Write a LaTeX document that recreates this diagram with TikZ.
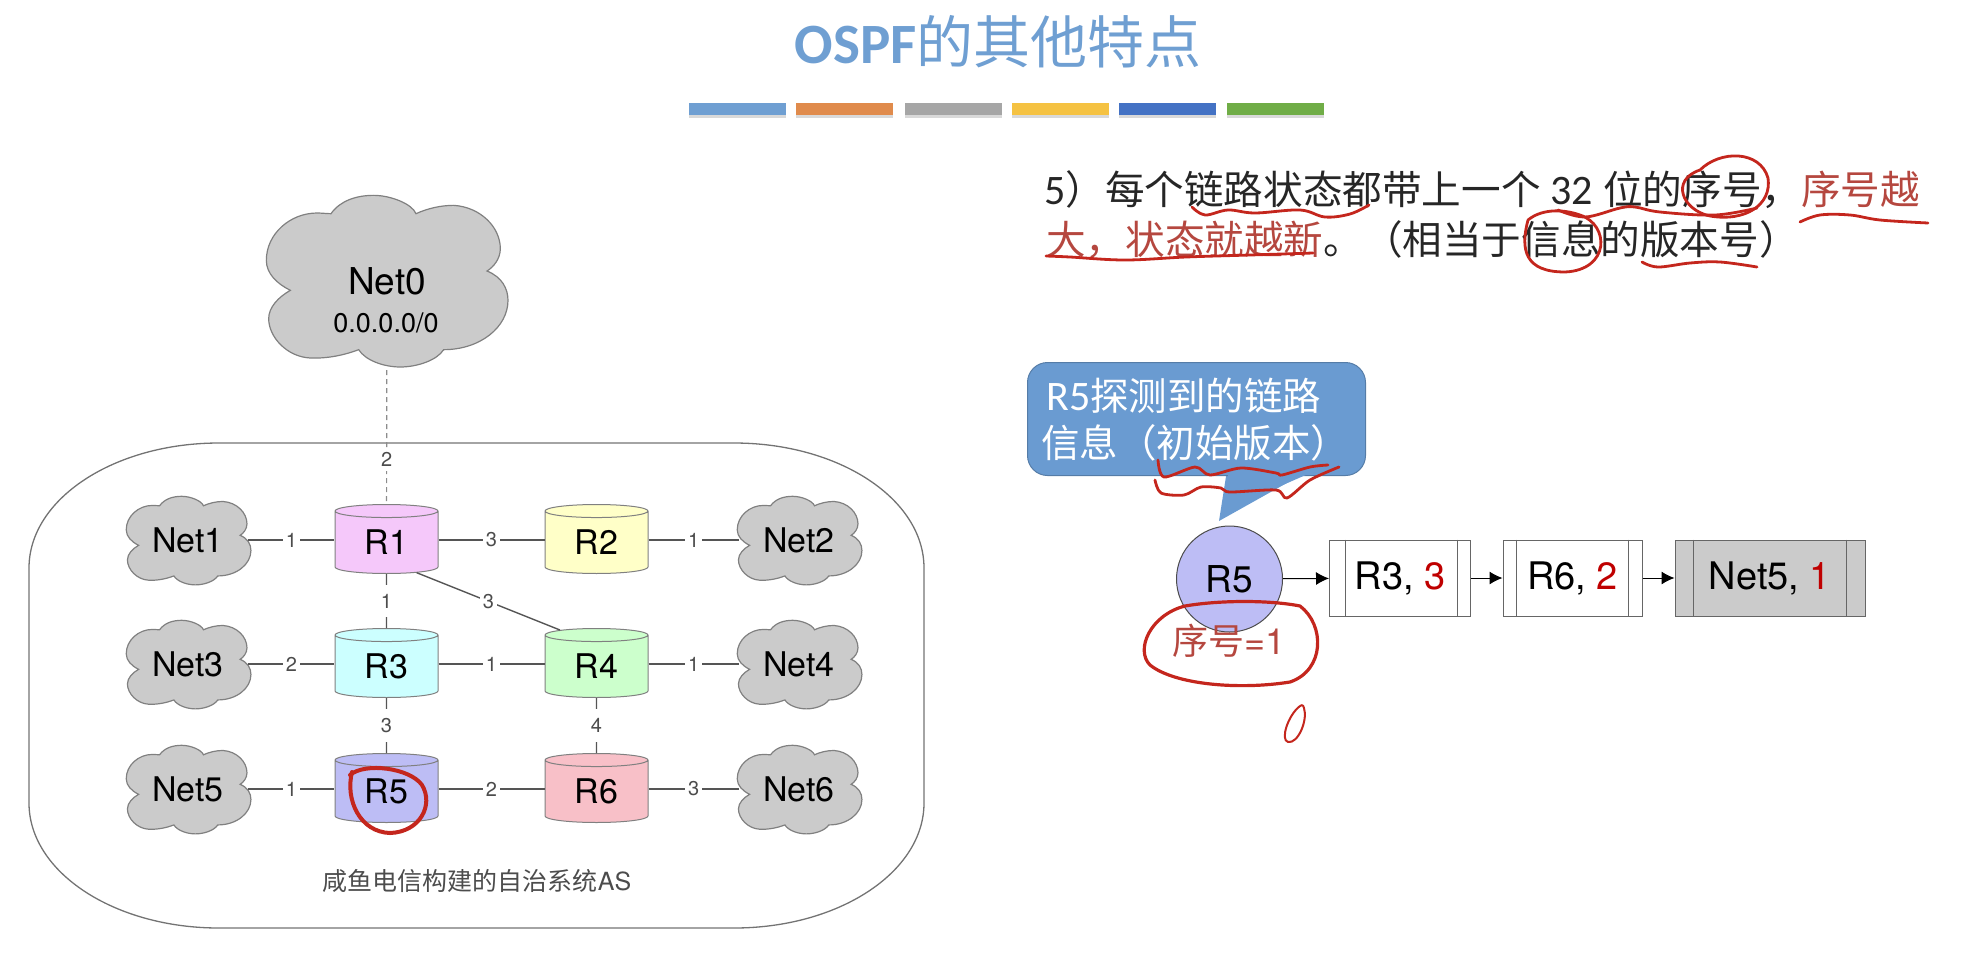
\documentclass[tikz,border=0pt]{standalone}
\usepackage{fontspec}
\usepackage{xcolor}
\setmainfont{TeX Gyre Heros}
\newfontfamily\cjk{Noto Sans CJK SC}
\newfontfamily\carl{Carlito}
\newcommand{\fsz}[1]{\fontsize{#1}{#1}\selectfont}
\newcommand{\drawcloud}[2]{\draw[cloudline, shift={#1}, scale=#2] (-168,-202) .. controls (-140,-242) and (-90,-257) .. (-40,-257) .. controls (10,-257) and (75,-232) .. (87,-202) .. controls (120,-217) and (160,-227) .. (200,-227) .. controls (280,-222) and (340,-162) .. (340,-97) .. controls (340,-67) and (320,-42) .. (300,-30) .. controls (345,-12) and (363,23) .. (363,58) .. controls (363,138) and (280,206) .. (170,206) .. controls (150,238) and (90,258) .. (40,258) .. controls (-10,258) and (-65,238) .. (-85,206) .. controls (-130,223) and (-180,233) .. (-230,231) .. controls (-300,228) and (-355,168) .. (-355,113) .. controls (-355,78) and (-325,48) .. (-290,28) .. controls (-330,8) and (-362,-22) .. (-362,-62) .. controls (-362,-142) and (-290,-204) .. (-210,-204) .. controls (-195,-204) and (-180,-202) .. (-168,-202) -- cycle;}
\definecolor{inkred}{HTML}{C4261D}
\definecolor{txtred}{HTML}{B5473F}
\definecolor{cloudgray}{HTML}{CBCBCB}
\definecolor{linegray}{HTML}{555555}
\definecolor{titleblue}{HTML}{6F9FD2}
\definecolor{calloutblue}{HTML}{6A9BD1}
\usetikzlibrary{arrows.meta, positioning, calc, shapes.geometric, shadows}

\begin{document}
\begin{tikzpicture}[x=1pt, y=-1pt,
	bar/.style={minimum width=97pt, minimum height=12pt, inner sep=0pt, drop shadow={shadow xshift=0pt, shadow yshift=-3pt, opacity=0.3}},
	cloudline/.style={draw=black!50, line width=1.2pt, fill=cloudgray},
	net/.style={inner sep=0pt, minimum width=120pt, minimum height=87pt, font=\fsz{34}},
	router/.style={cylinder, shape border rotate=90, aspect=0.3, draw=black!50, line width=1pt, inner sep=0pt, minimum width=103pt, minimum height=69pt, font=\fsz{34}},
	cost/.style={fill=white, inner sep=3pt, text=black!70, font=\fsz{20}},
	vcost/.style={cost, inner ysep=9pt},
	link/.style={linegray, line width=1.4pt},
	listbox/.style={draw=black!60, line width=1pt, inner sep=0pt, minimum height=76pt, font=\fsz{38}},
	ink/.style={inkred, line width=2.8pt, line cap=round, line join=round}]

	\useasboundingbox (0,0) rectangle (1972,954);

	% Title and colour bars
	\node[font=\fsz{57}, text=titleblue] (title) at (998,42) {{\carl\bfseries OSPF}{\cjk 的其他特点}};
	\node[bar, fill=titleblue] (bar1) at (737.5,109) {};
	\node[bar, fill={rgb,255:red,224;green,139;blue,76}] (bar2) at (844,109) {};
	\node[bar, fill=black!35] (bar3) at (953,109) {};
	\node[bar, fill={rgb,255:red,245;green,194;blue,66}] (bar4) at (1060.5,109) {};
	\node[bar, fill={rgb,255:red,68;green,114;blue,196}] (bar5) at (1167,109) {};
	\node[bar, fill={rgb,255:red,112;green,173;blue,71}] (bar6) at (1275.5,109) {};

	% Autonomous system outline
	\draw[black!55, line width=1.3pt] (219,443) -- (734,443) .. controls (839,443) and (924,499) .. (924,568) -- (924,803) .. controls (924,872) and (839,928) .. (734,928) -- (219,928) .. controls (114,928) and (29,872) .. (29,803) -- (29,568) .. controls (29,499) and (114,443) .. (219,443) -- cycle;
	\node[font=\cjk\fsz{25}, text=black!70] (ascap) at (477,881) {咸鱼电信构建的自治系统{\normalfont AS}};

	% Clouds
	\drawcloud{(387,281)}{0.3333}
	\drawcloud{(188.5,540.5)}{0.172}
	\drawcloud{(799.5,540.5)}{0.172}
	\drawcloud{(188.5,664.5)}{0.172}
	\drawcloud{(799.5,664.5)}{0.172}
	\drawcloud{(188.5,789.5)}{0.172}
	\drawcloud{(799.5,789.5)}{0.172}
	\node[net, minimum width=242pt, minimum height=178pt, font=\fsz{37}] (net0) at (387,281) {Net0};
	\node[font=\fsz{27}, inner sep=0pt] (net0ip) at (386,323) {0.0.0.0/0};
	\node[net] (net1) at (188,540) {Net1};
	\node[net] (net2) at (799,540) {Net2};
	\node[net] (net3) at (188,664) {Net3};
	\node[net] (net4) at (799,664) {Net4};
	\node[net] (net5) at (188,789) {Net5};
	\node[net] (net6) at (799,789) {Net6};

	% Routers
	\node[router, fill={rgb,255:red,245;green,200;blue,250}] (r1) at (386.5,542.5) {R1};
	\node[router, fill={rgb,255:red,255;green,255;blue,200}] (r2) at (596.5,542.5) {R2};
	\node[router, fill={rgb,255:red,204;green,255;blue,255}] (r3) at (386.5,666.5) {R3};
	\node[router, fill={rgb,255:red,204;green,255;blue,204}] (r4) at (596.5,666.5) {R4};
	\node[router, fill={rgb,255:red,189;green,189;blue,245}] (r5) at (386.5,791.5) {R5};
	\node[router, fill={rgb,255:red,248;green,192;blue,200}] (r6) at (596.5,791.5) {R6};

	% Links
	\draw[black!45, line width=1.2pt, dash pattern=on 5pt off 4pt] (net0) -- (r1) node[cost, pos=0.67, inner sep=4pt] (c0) {2};
	\draw[link] (net1) -- (net1 -| r1.west) node[cost, midway] (c1) {1};
	\draw[link] (net1 -| r1.east) -- (net1 -| r2.west) node[cost, midway] (c2) {3};
	\draw[link] (net2 -| r2.east) -- (net2) node[cost, midway] (c3) {1};
	\draw[link] (r1) -- (r3) node[vcost, midway] (c4) {1};
	\draw[link] (r1.south east) -- (r4.north west) node[cost, midway] (c5) {3};
	\draw[link] (net3) -- (net3 -| r3.west) node[cost, midway] (c6) {2};
	\draw[link] (net3 -| r3.east) -- (net3 -| r4.west) node[cost, midway] (c7) {1};
	\draw[link] (net4 -| r4.east) -- (net4) node[cost, midway] (c8) {1};
	\draw[link] (r3) -- (r5) node[vcost, midway] (c9) {3};
	\draw[link] (r4) -- (r6) node[vcost, midway] (c10) {4};
	\draw[link] (net5) -- (net5 -| r5.west) node[cost, midway] (c11) {1};
	\draw[link] (net5 -| r5.east) -- (net5 -| r6.west) node[cost, midway] (c12) {2};
	\draw[link] (net6 -| r6.east) -- (net6) node[cost, midway] (c13) {3};

	% Explanation text
	\node[anchor=west, font=\cjk\fsz{39.6}, text=black!85, inner sep=0pt] (line1) at (1044,190) {{\carl\fsz{42}5}）每个链路状态都带上一个\hspace{10pt}{\carl\fsz{42}32}\hspace{10pt}位的序号，\textcolor{txtred}{序号越}};
	\node[anchor=west, font=\cjk\fsz{39.6}, text=black!85, inner sep=0pt] (line2) at (1046,240) {\textcolor{txtred}{大，状态就越新}。（相当于信息的版本号）};

	% Callout
	\fill[calloutblue] (1227,470) -- (1310,470) -- (1219,521) -- cycle;
	\node[fill=calloutblue, draw=calloutblue!80!black, line width=1pt, rounded corners=20pt, minimum width=338pt, minimum height=113pt, anchor=north west] (callout) at (1027,362) {};
	\fill[calloutblue] (1228,474) -- (1308,474) -- (1260,495) -- (1226,495) -- cycle;
	\node[anchor=west, text=white, font=\cjk\fsz{38.5}, inner sep=0pt] (callout1) at (1046,396) {{\carl\fsz{42}R5}探测到的链路};
	\node[anchor=west, text=white, font=\cjk\fsz{38.5}, inner sep=0pt] (callout2) at (1041,443) {信息（初始版本）};

	% Link list of R5
	\node[circle, draw=black!70, fill={rgb,255:red,189;green,189;blue,245}, line width=1pt, minimum size=106pt, inner sep=0pt, font=\fsz{37}] (head) at (1229.5,579) {\raisebox{-6pt}{R5}};
	\node[font=\cjk\fsz{36}, text=txtred] (seq) at (1229,641) {序号{\normalfont =1}};
	\node[listbox, minimum width=141pt] (box1) at (1400,578) {R3, \textcolor{red!75!black}{3}};
	\node[listbox, minimum width=139pt] (box2) at (1572.5,578) {R6, \textcolor{red!75!black}{2}};
	\node[listbox, minimum width=190pt, fill=cloudgray] (box3) at (1770,578) {Net5, \textcolor{red!75!black}{1}};
	\draw[black!60, line width=1pt] ([xshift=16pt]box1.north west) -- ([xshift=16pt]box1.south west);
	\draw[black!60, line width=1pt] ([xshift=-14pt]box1.north east) -- ([xshift=-14pt]box1.south east);
	\draw[black!60, line width=1pt] ([xshift=14pt]box2.north west) -- ([xshift=14pt]box2.south west);
	\draw[black!60, line width=1pt] ([xshift=-14pt]box2.north east) -- ([xshift=-14pt]box2.south east);
	\draw[black!60, line width=1pt] ([xshift=19pt]box3.north west) -- ([xshift=19pt]box3.south west);
	\draw[black!60, line width=1pt] ([xshift=-19pt]box3.north east) -- ([xshift=-19pt]box3.south east);
	\draw[-{Latex[length=13pt, width=13pt]}, line width=1pt] (head) -- (box1);
	\draw[-{Latex[length=13pt, width=13pt]}, line width=1pt] (box1) -- (box2);
	\draw[-{Latex[length=13pt, width=13pt]}, line width=1pt] (box2) -- (box3);

	% Red pen marks on the text
	\draw[ink] plot[smooth, tension=0.6] coordinates {(1192,207) (1205,215) (1228,210) (1255,213) (1300,210) (1325,217) (1350,214) (1369,205)};
	\draw[ink] plot[smooth, tension=0.6] coordinates {(1558,210) (1585,217) (1620,208) (1635,207) (1660,212) (1715,215) (1757,208)};
	\draw[ink] plot[smooth, tension=0.6] coordinates {(1800,222) (1820,215) (1850,215) (1880,220) (1928,223)};
	\draw[ink] plot[smooth, tension=0.6] coordinates {(1046,256) (1070,257) (1125,260) (1186,257) (1250,255) (1313,253)};
	\draw[ink] plot[smooth, tension=0.6] coordinates {(1642,262) (1658,267) (1690,263) (1720,262) (1757,267)};
	\draw[ink] (1700,170) .. controls (1720,150) and (1760,150) .. (1768,178) .. controls (1772,205) and (1745,222) .. (1710,216) .. controls (1682,210) and (1670,180) .. (1700,170);
	\draw[ink] (1528,220) .. controls (1520,250) and (1525,272) .. (1565,272) .. controls (1610,270) and (1610,225) .. (1580,215) .. controls (1560,208) and (1540,210) .. (1528,220);

	% Red pen marks on the callout and list
	\draw[ink] plot[smooth, tension=0.5] coordinates {(1158,460) (1164,477) (1195,467) (1210,475) (1241,468) (1276,473) (1282,475) (1310,467) (1328,465)};
	\draw[ink] plot[smooth, tension=0.5] coordinates {(1339,467) (1310,480) (1287,498) (1276,490) (1230,492) (1221,488) (1201,487) (1184,495) (1161,493) (1155,480)};
	\draw[ink, line width=3.2pt] (1185,606) .. controls (1150,615) and (1135,650) .. (1150,665) .. controls (1175,685) and (1240,690) .. (1290,682) .. controls (1325,670) and (1325,625) .. (1300,606) .. controls (1270,600) and (1220,600) .. (1185,606);
	\draw[ink, line width=2pt] (1300,706) .. controls (1288,715) and (1280,740) .. (1288,742) .. controls (1298,744) and (1308,720) .. (1304,708) .. controls (1303,704) and (1301,705) .. (1300,706);
	\draw[ink, line width=4pt] (350,775) .. controls (365,762) and (410,768) .. (422,785) .. controls (434,805) and (420,832) .. (390,833) .. controls (360,832) and (345,800) .. (352,772);
\end{tikzpicture}
\end{document}
